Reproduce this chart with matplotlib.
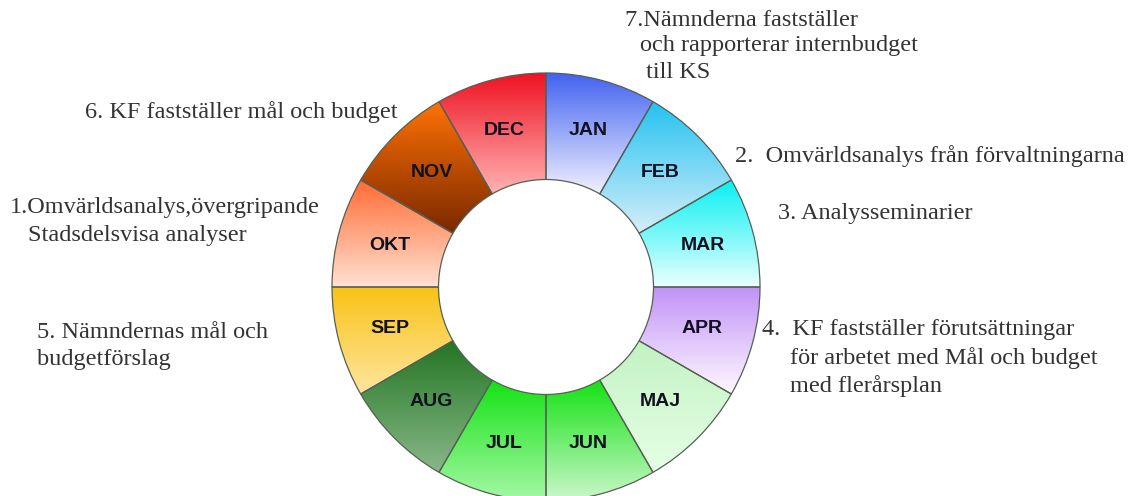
import numpy as np
import matplotlib
matplotlib.use("Agg")
import matplotlib.pyplot as plt
from matplotlib.colors import LinearSegmentedColormap

plt.rcParams["font.family"] = ["Liberation Serif", "DejaVu Serif"]

# months clockwise from twelve o'clock, all the same share of the year
months = ["JAN", "FEB", "MAR", "APR", "MAJ", "JUN",
          "JUL", "AUG", "SEP", "OKT", "NOV", "DEC"]
shares = [1] * 12

# gradient of each segment, top colour -> bottom colour
top_colors = ["#4262f0", "#22c2f0", "#05f0f2", "#c092f8", "#c2f2c2", "#14e214",
              "#14e214", "#237523", "#f8c214", "#ff6a32", "#ff7204", "#f01222"]
bottom_colors = ["#f2f2ff", "#d6eefa", "#eaffff", "#fff8ff", "#e6ffe6", "#ccf8cc",
                 "#a6f8a6", "#88b888", "#ffe6a0", "#ffe2d2", "#7a2800", "#ffb4b4"]

notes = [
    "7.Nämnderna fastställer",
    "och rapporterar internbudget",
    "till KS",
    "6. KF fastställer mål och budget",
    "2.  Omvärldsanalys från förvaltningarna",
    "3. Analysseminarier",
    "1.Omvärldsanalys,övergripande",
    "Stadsdelsvisa analyser",
    "4.  KF fastställer förutsättningar",
    "för arbetet med Mål och budget",
    "med flerårsplan",
    "5. Nämndernas mål och",
    "budgetförslag",
]
# left x, y (pixels from top) of each note line
note_xy = [(625, 20), (640, 46), (646, 73), (85, 112), (735, 156), (778, 213),
           (10, 208), (28, 236), (762, 330), (790, 358), (790, 386),
           (37, 332), (37, 360)]

W, H = 1132, 496
cx, cy = 546, H - 287
r_out, r_in = 214, 107.5

fig = plt.figure(figsize=(W / 100, H / 100), dpi=100)
ax = fig.add_axes([0, 0, 1, 1])

wedges, texts = ax.pie(shares, labels=months, startangle=90, counterclock=False,
                       radius=r_out, center=(cx, cy), labeldistance=162 / r_out,
                       wedgeprops=dict(width=r_out - r_in, edgecolor="#556055",
                                       linewidth=0.9),
                       textprops=dict(family=["Liberation Sans", "DejaVu Sans"],
                                      fontsize=14, fontweight="bold",
                                      color="#111122"))

grad = np.linspace(0, 1, 256).reshape(-1, 1)
for w, c0, c1 in zip(wedges, top_colors, bottom_colors):
    w.set_facecolor("none")
    ext = w.get_path().get_extents()
    cmap = LinearSegmentedColormap.from_list("g", [c0, c1])
    im = ax.imshow(grad, cmap=cmap, aspect="auto", origin="upper",
                   extent=(ext.x0, ext.x1, ext.y0, ext.y1), zorder=0.5,
                   interpolation="bilinear")
    im.set_clip_path(w)
    w.set_zorder(1)

for t in texts:
    t.set_ha("center")
    t.set_va("center")

for s, (x, y) in zip(notes, note_xy):
    ax.text(x, H - y, s, fontsize=17.5, color="#333333", ha="left", va="center")

ax.set_xlim(0, W)
ax.set_ylim(0, H)
ax.set_aspect("auto")
ax.axis("off")

fig.savefig("out.png", dpi=100)
